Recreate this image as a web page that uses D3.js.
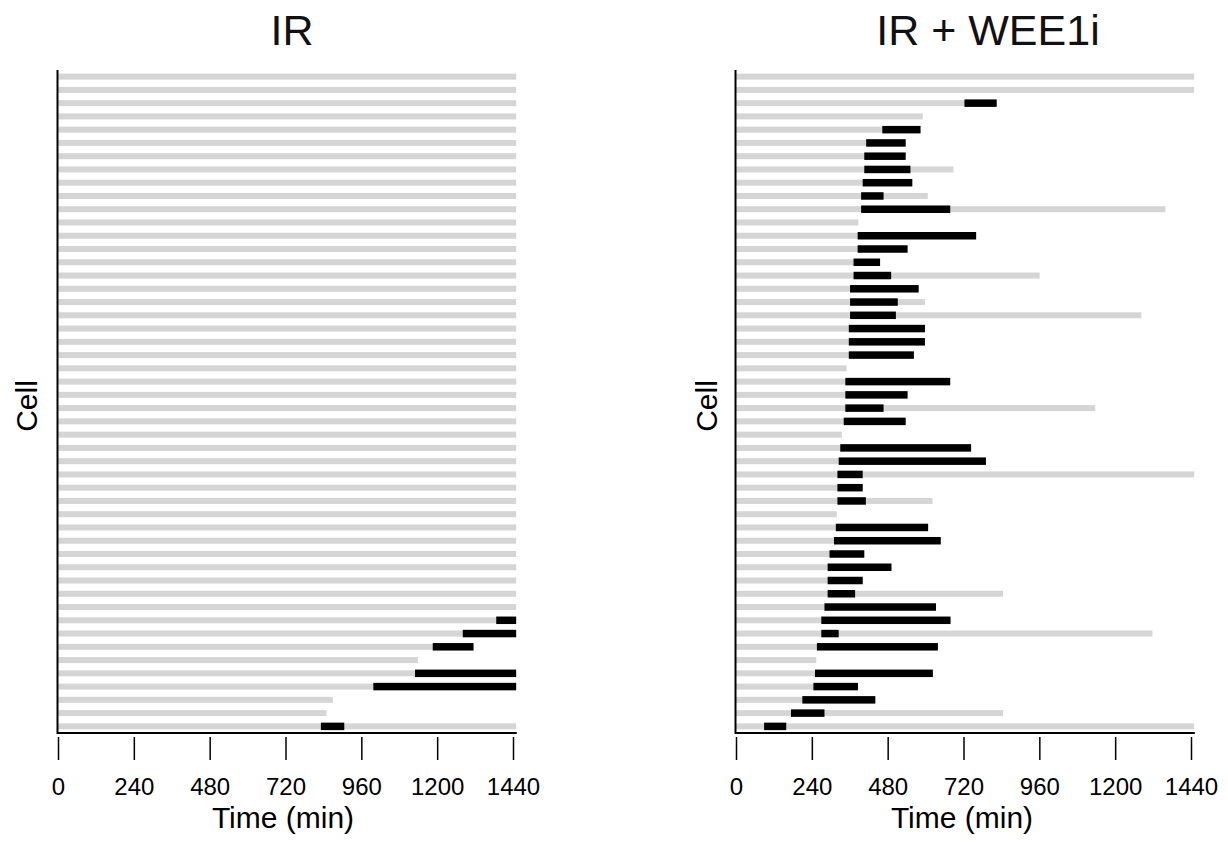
<!DOCTYPE html>
<html>
<head>
<meta charset="utf-8">
<script src="https://cdn.jsdelivr.net/npm/d3@7"></script>
<style>
  html, body { margin: 0; padding: 0; background: #fff; }
  svg { display: block; font-family: "Liberation Sans", Arial, Helvetica, sans-serif; }
</style>
</head>
<body>
<svg id="chart" width="1228" height="842"></svg>
<script>
// ---- data (minutes) ----
const cells = d3.range(1, 51);
const tickValues = [0, 240, 480, 720, 960, 1200, 1440];
const panelTitles = ["IR", "IR + WEE1i"];

// IR: end of each cell's track (grey) and black interval
const irEnd = [
  1450,1450,1450,1450,1450,1450,1450,1450,1450,1450,
  1450,1450,1450,1450,1450,1450,1450,1450,1450,1450,
  1450,1450,1450,1450,1450,1450,1450,1450,1450,1450,
  1450,1450,1450,1450,1450,1450,1450,1450,1450,1450,
  1450,1450,1450,1315,1139,1450,1450,870,850,1450
];
const irBlackStart = [
  null,null,null,null,null,null,null,null,null,null,
  null,null,null,null,null,null,null,null,null,null,
  null,null,null,null,null,null,null,null,null,null,
  null,null,null,null,null,null,null,null,null,null,
  null,1387,1281,1186,null,1130,998,null,null,832
];
const irBlackEnd = [
  null,null,null,null,null,null,null,null,null,null,
  null,null,null,null,null,null,null,null,null,null,
  null,null,null,null,null,null,null,null,null,null,
  null,null,null,null,null,null,null,null,null,null,
  null,1450,1450,1315,null,1450,1450,null,null,906
];

// IR + WEE1i
const weeEnd = [
  1450,1450,825,591,584,537,537,688,558,607,
  1359,387,760,543,456,961,578,598,1283,598,
  598,563,350,678,543,1137,537,335,744,791,
  1450,401,622,319,608,648,406,492,401,845,
  633,679,1318,639,254,623,386,441,845,1450
];
const weeBlackStart = [
  null,null,723,null,463,412,406,406,401,396,
  396,null,385,385,372,372,361,361,361,357,
  357,357,null,346,346,346,341,null,330,325,
  321,321,321,null,316,310,296,290,290,290,
  280,270,270,256,null,250,245,210,174,89
];
const weeBlackEnd = [
  null,null,825,null,584,537,537,552,558,467,
  678,null,760,543,456,491,578,512,506,598,
  598,563,null,678,543,467,537,null,744,791,
  401,401,411,null,608,648,406,492,401,377,
  633,679,325,639,null,623,386,441,280,159
];

const panels = [
  { title: panelTitles[0], end: irEnd, bs: irBlackStart, be: irBlackEnd,
    x0: 58, x1: 513, titleX: 292, labelX: 37, xlabX: 283 },
  { title: panelTitles[1], end: weeEnd, bs: weeBlackStart, be: weeBlackEnd,
    x0: 736, x1: 1191, titleX: 988, labelX: 717, xlabX: 962 }
];

const svg = d3.select("#chart");
const yTop = 70, yBot = 733;
const y = d3.scaleBand().domain(cells).range([yTop, yBot]).padding(0);
const greyH = 6, blackH = 7.5;

panels.forEach(p => {
  const x = d3.scaleLinear().domain([0, 1440]).range([p.x0, p.x1]);
  const g = svg.append("g");

  const rows = cells.map((c, i) => ({ cell: c, end: p.end[i], bs: p.bs[i], be: p.be[i] }));

  // grey tracks
  g.selectAll("rect.grey").data(rows).join("rect")
    .attr("class", "grey")
    .attr("x", x(0))
    .attr("y", d => y(d.cell) + y.bandwidth() / 2 - greyH / 2)
    .attr("width", d => x(d.end) - x(0))
    .attr("height", greyH)
    .attr("fill", "#d5d5d5");

  // black intervals
  g.selectAll("rect.black").data(rows.filter(d => d.bs !== null)).join("rect")
    .attr("class", "black")
    .attr("x", d => x(d.bs))
    .attr("y", d => y(d.cell) + y.bandwidth() / 2 - blackH / 2)
    .attr("width", d => x(d.be) - x(d.bs))
    .attr("height", blackH)
    .attr("fill", "#000");

  // L-shaped box
  g.append("path")
    .attr("d", `M${x(0) - 0.5},${yTop} V${yBot} H${x(1452)}`)
    .attr("fill", "none")
    .attr("stroke", "#000")
    .attr("stroke-width", 2);

  // x axis ticks (detached, below the box)
  const ax = g.append("g")
    .attr("transform", `translate(0,${yBot + 4})`)
    .call(d3.axisBottom(x).tickValues(tickValues).tickSize(23).tickPadding(18).tickFormat(d3.format("d")));
  ax.select(".domain").remove();
  ax.selectAll(".tick line").attr("stroke", "#000").attr("stroke-width", 1.5);
  ax.selectAll(".tick text").attr("font-size", 24).attr("fill", "#000")
    .attr("font-family", "'Liberation Sans', Arial, sans-serif");

  // title
  g.append("text")
    .attr("x", p.titleX).attr("y", 45)
    .attr("text-anchor", "middle")
    .attr("font-size", 43)
    .attr("fill", "#111")
    .text(p.title);

  // axis labels
  g.append("text")
    .attr("x", p.xlabX).attr("y", 828)
    .attr("text-anchor", "middle")
    .attr("font-size", 30)
    .attr("fill", "#000")
    .text("Time (min)");

  g.append("text")
    .attr("transform", `translate(${p.labelX},406) rotate(-90)`)
    .attr("text-anchor", "middle")
    .attr("font-size", 30)
    .attr("fill", "#000")
    .text("Cell");
});
</script>
</body>
</html>
